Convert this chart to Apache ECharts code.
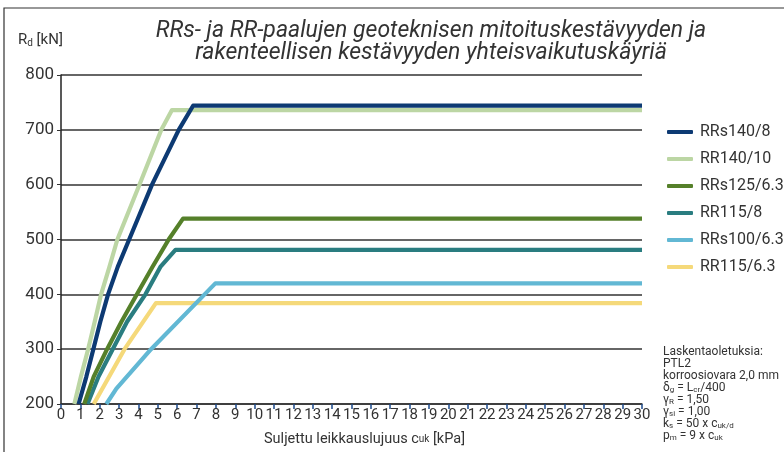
<!DOCTYPE html>
<html><head><meta charset="utf-8">
<script src="https://cdn.jsdelivr.net/npm/echarts@6/dist/echarts.min.js"></script>
<style>html,body{margin:0;padding:0;background:#fff}#c{width:784px;height:452px}</style>
</head><body><div id="c"></div>
<script>
const seriesNames = ['RRs140/8','RR140/10','RRs125/6.3','RR115/8','RRs100/6.3','RR115/6.3'];
const rrs140_8_x  = [0.91, 1.31, 1.67, 2.03, 2.43, 2.93, 3.52, 4.70, 6.08, 6.82, 30];
const rrs140_8_y  = [200, 250, 300, 350, 400, 450, 500, 600, 700, 744, 744];
const rr140_10_x  = [0.69, 1.03, 1.40, 1.74, 2.07, 2.50, 2.91, 4.05, 5.18, 5.73, 30];
const rr140_10_y  = [200, 250, 300, 350, 400, 450, 500, 600, 700, 736, 736];
const rrs125_63_x = [1.20, 1.69, 2.38, 3.12, 3.92, 4.72, 5.56, 6.30, 30];
const rrs125_63_y = [200, 250, 300, 350, 400, 450, 500, 538, 538];
const rr115_8_x   = [1.37, 1.94, 2.67, 3.41, 4.36, 5.13, 5.91, 30];
const rr115_8_y   = [200, 250, 300, 350, 400, 450, 481, 481];
const rrs100_63_x = [2.34, 2.86, 4.65, 7.97, 30];
const rrs100_63_y = [200, 228, 300, 420, 420];
const rr115_63_x  = [1.69, 3.28, 4.90, 30];
const rr115_63_y  = [200, 300, 384, 384];
const xTicks = [0, 30, 1];
const yTicks = [200, 800, 100];

const colors = ['#0d3a73','#bcd6a4','#55802a','#2a7d80','#62b8d4','#f5d97a'];
const xs = [rrs140_8_x, rr140_10_x, rrs125_63_x, rr115_8_x, rrs100_63_x, rr115_63_x];
const ys = [rrs140_8_y, rr140_10_y, rrs125_63_y, rr115_8_y, rrs100_63_y, rr115_63_y];
const font = 'Roboto, "Noto Sans", sans-serif';

const chart = echarts.init(document.getElementById('c'), null, {renderer:'canvas'});
const series = seriesNames.map((n,i)=>({
  name:n, type:'line', showSymbol:false, symbol:'none',
  data: xs[i].map((x,j)=>[x, ys[i][j]]),
  lineStyle:{color:colors[i], width:4.2, join:'round'},
  itemStyle:{color:colors[i]},
  z: 10 - i
}));

chart.setOption({
  animation:false,
  textStyle:{fontFamily:font},
  grid:{left:61, right:142, top:75, bottom:48},
  legend:{
    orient:'vertical', left:662, top:119, itemWidth:26, itemHeight:4, itemGap:11,
    icon:'roundRect',
    textStyle:{fontSize:16, color:'#333', fontFamily:font, padding:[0,0,0,2]},
    data: seriesNames
  },
  xAxis:{
    type:'value', min:xTicks[0], max:xTicks[1], interval:xTicks[2],
    axisLine:{lineStyle:{color:'#333', width:1.5}},
    axisTick:{show:true, length:5, lineStyle:{color:'#1d4a8a', width:1.5}},
    axisLabel:{fontSize:15, color:'#333', margin:4, fontFamily:'"Liberation Sans Narrow", Roboto, sans-serif'},
    splitLine:{show:false}
  },
  yAxis:{
    type:'value', min:yTicks[0], max:yTicks[1], interval:yTicks[2],
    axisLine:{show:true, lineStyle:{color:'#222', width:1.5}},
    axisTick:{show:true, length:4, lineStyle:{color:'#333'}},
    axisLabel:{fontSize:17, color:'#333', margin:7},
    splitLine:{lineStyle:{color:'#333', width:1.5}}
  },
  series: series,
  graphic:[
    {type:'rect', shape:{x:4, y:8, width:800, height:460}, style:{fill:'none', stroke:'#333', lineWidth:1.2}, z:-1, silent:true},
    {type:'text', x:431, y:20, style:{
      text:'RRs- ja RR-paalujen geoteknisen mitoituskestävyyden ja\nrakenteellisen kestävyyden yhteisvaikutuskäyriä',
      fill:'#333', align:'center', lineHeight:22, font:'italic 23px '+font}},
    {type:'text', x:18, y:32, style:{
      rich:{n:{fontSize:15, fill:'#333', fontFamily:font}, s:{fontSize:10, fill:'#333', fontFamily:font, padding:[6,0,0,0]}},
      text:'{n|R}{s|d}{n| [kN]}'}},
    {type:'text', x:264, y:432, style:{
      rich:{n:{fontSize:14.5, fill:'#333', fontFamily:font}, s:{fontSize:10, fill:'#333', fontFamily:font}},
      text:'{n|Suljettu leikkauslujuus c}{s|uk}{n| [kPa]}'}},
    {type:'text', x:663, y:346, style:{
      rich:{n:{fontSize:12, fill:'#333', fontFamily:font, lineHeight:12}, s:{fontSize:8, fill:'#333', fontFamily:font, lineHeight:12, padding:[4,0,0,0]}},
      text:'{n|Laskentaoletuksia:}\n{n|PTL2}\n{n|korroosiovara 2,0 mm}\n{n|δ}{s|g}{n| = L}{s|cr}{n|/400}\n{n|γ}{s|R}{n| = 1,50}\n{n|γ}{s|si}{n| = 1,00}\n{n|k}{s|s}{n| = 50 x c}{s|uk/d}\n{n|p}{s|m}{n| = 9 x c}{s|uk}'}}
  ]
});
</script></body></html>
